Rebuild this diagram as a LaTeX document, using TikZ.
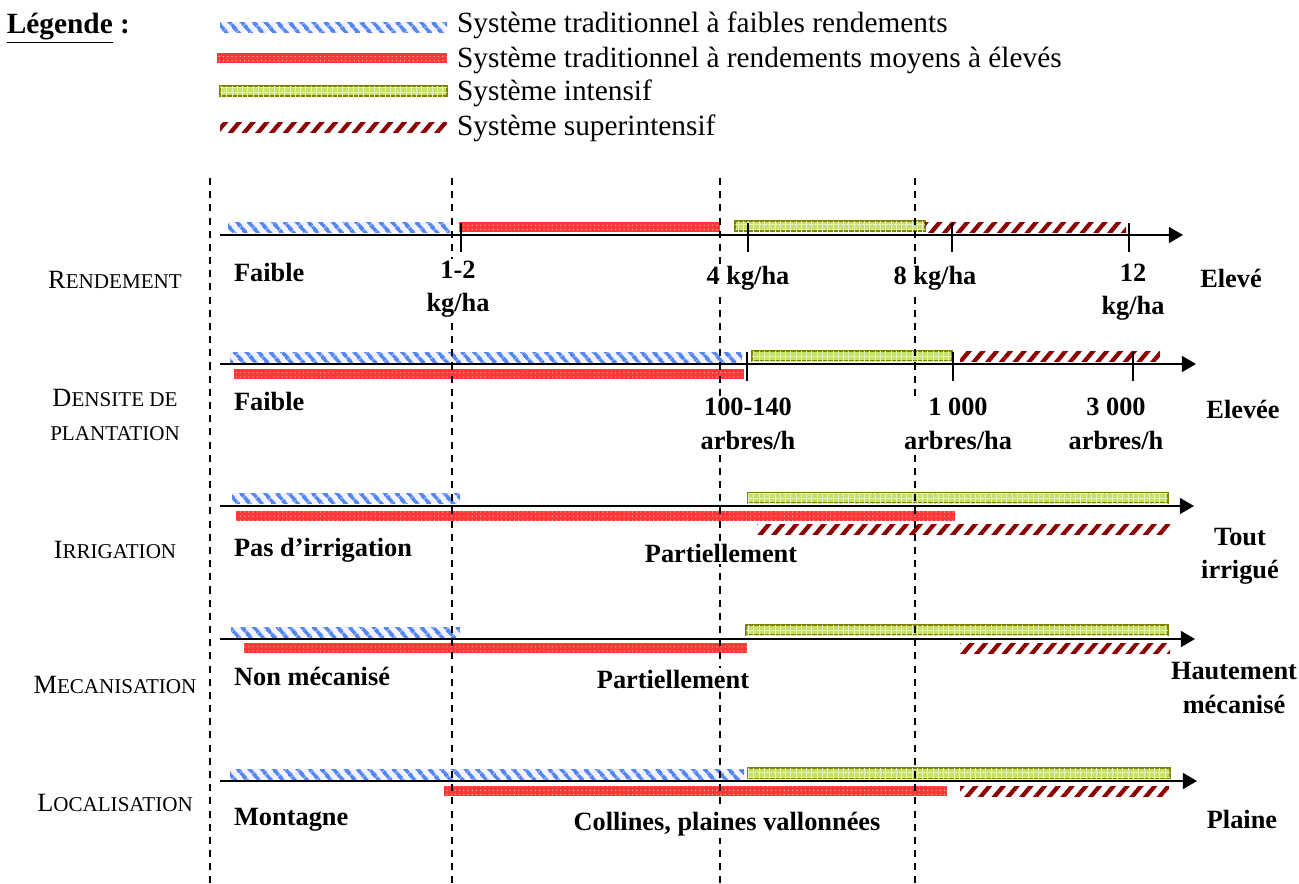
\documentclass[tikz,border=0pt]{standalone}
\usepackage{fontspec}
\setmainfont{Liberation Serif}
\usetikzlibrary{arrows.meta,patterns.meta}

\definecolor{bleuraye}{RGB}{85,135,240}
\definecolor{rougefin}{RGB}{255,55,55}
\definecolor{vertint}{RGB}{198,226,100}
\definecolor{bordvert}{RGB}{128,128,0}
\definecolor{rougesombre}{RGB}{140,0,0}

% barre de systeme : style, debut, fin, milieu
\newcommand\barre[4]{\path[#1] (#2,#4-5) rectangle (#3,#4+5);}
% petites capitales
\newcommand\pcap[2]{#1{\fontsize{12}{14}\selectfont #2}}

\begin{document}
\begin{tikzpicture}[x=0.02cm, y=-0.02cm,
  trad/.style = {preaction={fill=blue!5}, pattern={Lines[angle=-50,distance=5.4pt,line width=2.3pt]},
    pattern color=bleuraye},
  moyen/.style = {fill=rougefin, postaction={pattern={Dots[radius=0.35pt,distance=2.4pt]},
    pattern color=white!75!rougefin}},
  intens/.style = {fill=vertint, draw=bordvert, line width=1.1pt, postaction={pattern={Hatch[distance=3pt,line width=0.3pt]},
    pattern color=white!55!vertint}},
  superint/.style = {pattern={Lines[angle=50,distance=6pt,line width=2.4pt]}, pattern color=rougesombre},
  axe/.style = {line width=1.1pt, -{Triangle[length=8pt,width=9pt]}},
  grad/.style = {line width=1.1pt},
  pointille/.style = {dash pattern=on 4pt off 3.5pt},
  valeur/.style = {fill=white, inner sep=1pt, align=center, font=\fontsize{15}{19}\selectfont\bfseries},
  critere/.style = {inner sep=1pt, align=center, font=\fontsize{15}{19.5}\selectfont},
  legende/.style = {anchor=west, inner sep=1pt, font=\fontsize{16.7}{20}\selectfont}]
\useasboundingbox (0,0) rectangle (1299,883);

% legende
\node[anchor=east, inner sep=1pt, font=\fontsize{16.7}{20}\selectfont\bfseries] (titre) at (132,28) {\underline{Légende} :};
\barre{trad}{220}{447}{27}
\barre{moyen}{217}{447}{58}
\barre{intens}{220}{447}{91}
\barre{superint}{220}{447}{127}
\node[legende] (leg1) at (455,25) {Système traditionnel à faibles rendements};
\node[legende] (leg2) at (455,60) {Système traditionnel à rendements moyens à élevés};
\node[legende] (leg3) at (455,93) {Système intensif};
\node[legende] (leg4) at (455,128) {Système superintensif};

% rendement
\barre{trad}{228}{450}{227}
\barre{moyen}{459}{720}{227}
\barre{intens}{735}{925}{226}
\barre{superint}{925}{1126}{227}
% densite
\barre{trad}{230}{742}{357}
\barre{moyen}{234}{744}{374}
\barre{intens}{752}{952}{356}
\barre{superint}{960}{1160}{356}
% irrigation
\barre{trad}{232}{460}{498}
\barre{moyen}{236}{955}{516}
\barre{intens}{748}{1168}{498}
\barre{superint}{757}{1170}{529}
% mecanisation
\barre{trad}{231}{460}{632}
\barre{moyen}{244}{747}{648}
\barre{intens}{746}{1168}{630}
\barre{superint}{960}{1170}{648}
% localisation
\barre{trad}{230}{744}{774}
\barre{moyen}{444}{947}{791}
\barre{intens}{748}{1170}{773}
\barre{superint}{960}{1169}{791}

% axes
\foreach \n/\y/\xd in {1/235/1183, 2/364/1196, 3/506/1194, 4/639/1195, 5/781/1197} {
  \coordinate (axe\n-g) at (220,\y);
  \coordinate (axe\n-d) at (\xd,\y);
  \draw[axe] (axe\n-g) -- (axe\n-d);
}
\foreach \x/\y in {461/235, 748/235, 952/235, 1129/235, 747/364, 953/364, 1133/364}
  \draw[grad] (\x,\y-12) -- (\x,\y+17);

% separations
\draw[pointille, line width=0.8pt] (210,178) -- (210,883);
\draw[pointille, line width=1.6pt] (452,178) -- (452,883);
\foreach \x in {720, 915}
  \draw[pointille, line width=1pt] (\x,178) -- (\x,883);

% criteres
\node[critere] (rdt) at (115,280) {\pcap{R}{ENDEMENT}};
\node[critere] (dens) at (115,415) {\pcap{D}{ENSITE DE}\\\pcap{}{PLANTATION}};
\node[critere] (irr) at (115,550) {\pcap{I}{RRIGATION}};
\node[critere] (meca) at (115,685) {\pcap{M}{ECANISATION}};
\node[critere] (loc) at (115,803) {\pcap{L}{OCALISATION}};

% valeurs
\node[valeur, anchor=west] (r0) at (232,272) {Faible};
\node[valeur] (r1) at (458,289) {1-2\\kg/ha};
\node[valeur] (r2) at (748,278) {4 kg/ha};
\node[valeur] (r3) at (935,278) {8 kg/ha};
\node[valeur] (r4) at (1133,292) {12\\kg/ha};
\node[valeur] (r5) at (1231,278) {Elevé};

\node[valeur, anchor=west] (d0) at (232,401) {Faible};
\node[valeur] (d1) at (748,424) {100-140\\arbres/h};
\node[valeur] (d2) at (958,424) {1 000\\arbres/ha};
\node[valeur] (d3) at (1116,424) {3 000\\arbres/h};
\node[valeur] (d4) at (1243,409) {Elevée};

\node[valeur, anchor=west] (i0) at (232,550) {Pas d’irrigation};
\node[valeur] (i1) at (721,553) {Partiellement};
\node[valeur] (i2) at (1240,556) {Tout\\irrigué};

\node[valeur, anchor=west] (m0) at (232,676) {Non mécanisé};
\node[valeur] (m1) at (673,679) {Partiellement};
\node[valeur] (m2) at (1234,688) {Hautement\\mécanisé};

\node[valeur, anchor=west] (l0) at (232,820) {Montagne};
\node[valeur] (l1) at (727,824) {Collines, plaines vallonnées};
\node[valeur] (l2) at (1242,819) {Plaine};
\end{tikzpicture}
\end{document}
